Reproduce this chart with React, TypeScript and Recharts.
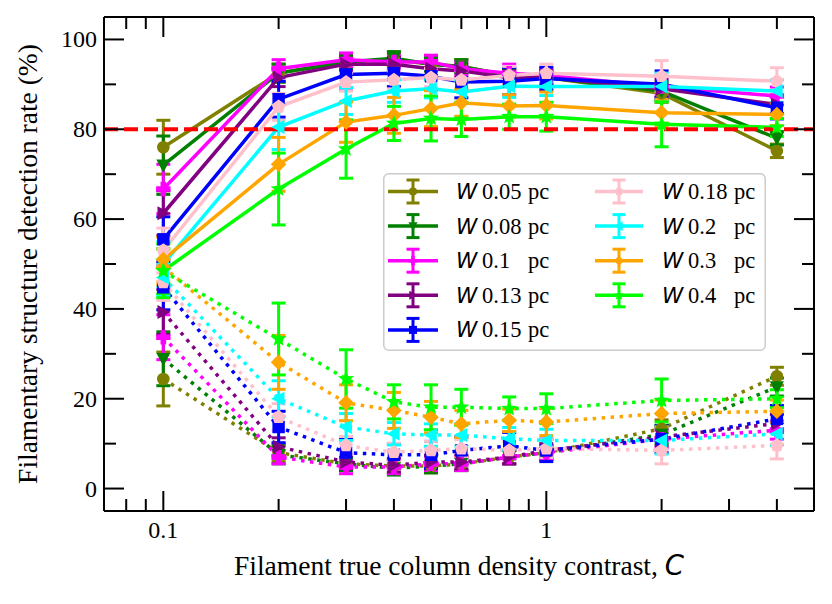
import React from 'react';
import { ComposedChart, Line, XAxis, YAxis, ErrorBar, ReferenceLine } from 'recharts';

// Filament true column density contrast C
const contrastC = [0.1, 0.2, 0.3, 0.4, 0.5, 0.6, 0.8, 1, 2, 4];

// series meta
const widthLabels = ['0.05', '0.08', '0.1', '0.13', '0.15', '0.18', '0.2', '0.3', '0.4'];
const seriesColors = ['#808000', '#008000', '#ff00ff', '#800080', '#0000ff', '#ffc0cb', '#00ffff', '#ffa500', '#00ff00'];
const seriesMarkers = ['circle', 'triDown', 'plus', 'triRight', 'square', 'pentagon', 'triLeft', 'diamond', 'star'];

// upper (solid) curves: detection rate (%)
const up005 = [76, 92.5, 95, 95.5, 94.5, 94, 92, 91.5, 88, 75.2];
const up008 = [72, 92.5, 95, 95.8, 94.5, 94, 92, 91.5, 88.5, 78];
const up010 = [66.7, 93.5, 95.5, 95, 95, 93.5, 92.5, 92, 89.5, 87.4];
const up013 = [61.3, 91.5, 94.5, 94.5, 93.5, 93, 91.5, 91.5, 89, 85.5];
const up015 = [55.5, 86.7, 92.2, 92.5, 91.8, 90.5, 90.7, 91.3, 90, 84.8];
const up018 = [53, 85, 90.5, 91, 91.5, 91, 92, 92.5, 91.8, 90.7];
const up020 = [50, 80.5, 86.3, 88.5, 89, 88.3, 89.6, 89.5, 89.5, 88.5];
const up030 = [51, 72.2, 81.6, 83.1, 84.6, 85.9, 85.2, 85.3, 83.7, 83.3];
const up040 = [48.5, 66.7, 75.6, 81.3, 82.4, 82.2, 82.8, 82.8, 81.1, 80.4];

// upper errors
const upErr005 = [6, 2, 1.5, 1.5, 1.5, 1.5, 1.5, 1.5, 2, 1.5];
const upErr008 = [6.5, 2, 1.5, 1.5, 1.5, 1.5, 1.5, 1.5, 2, 1.5];
const upErr010 = [5.5, 2, 1.5, 1.5, 1.5, 1.5, 2, 1.5, 2, 2];
const upErr013 = [5, 2, 1.5, 1.5, 1.5, 1.5, 1.5, 1.5, 2, 2];
const upErr015 = [5, 4, 3, 3, 3, 3.5, 3, 2.5, 3, 2.5];
const upErr018 = [5, 3, 2, 2, 2, 2, 2, 2, 3.5, 3];
const upErr020 = [5, 5, 3, 2.5, 2, 2.5, 2.5, 2, 3, 2.5];
const upErr030 = [5, 6, 4.5, 4, 4, 3, 2.5, 3, 3, 2.5];
const upErr040 = [6, 8, 6.5, 3.8, 5, 3.8, 2.8, 3.2, 5, 2];

// lower (dotted) curves
const lo005 = [24.4, 8, 5.5, 5, 5, 5.5, 7, 8, 13.3, 25];
const lo008 = [28.9, 7.5, 5.5, 4.5, 5, 5.5, 7, 8, 12, 22.6];
const lo010 = [33.7, 7, 4.8, 4.8, 5.5, 5.5, 7, 8, 11, 13];
const lo013 = [39.3, 9.3, 5.9, 5.2, 5.9, 5.9, 7, 8.5, 11.5, 14.5];
const lo015 = [44.8, 13.7, 8, 7.5, 7.5, 8.5, 9.5, 8.5, 11, 15.5];
const lo018 = [45.9, 15.9, 9.6, 8.1, 8.5, 8.9, 8.5, 8.9, 8.5, 9.6];
const lo020 = [47, 20, 13.7, 12.2, 11.9, 11.9, 11.1, 10.7, 10.7, 12.2];
const lo030 = [49.3, 28.1, 19.1, 17.4, 15.9, 14.4, 15.2, 14.8, 16.7, 17.2];
const lo040 = [48.4, 33.3, 24.4, 19.3, 18.1, 18.1, 17.8, 17.8, 19.6, 20];

// lower errors
const loErr005 = [6, 2, 1.5, 1.5, 1.5, 1.5, 1.5, 1.5, 2, 2];
const loErr008 = [6, 2, 1.5, 1.5, 1.5, 1.5, 1.5, 1.5, 2, 2];
const loErr010 = [5, 1.5, 1.5, 1.5, 1.5, 1.5, 1.5, 1.5, 2, 2];
const loErr013 = [5, 2, 1.5, 1.5, 1.5, 1.5, 1.5, 1.5, 2, 2];
const loErr015 = [5, 3.5, 3, 2.5, 3, 3, 3, 2.5, 3, 3];
const loErr018 = [4, 3, 2, 2, 2, 2, 2, 2, 3, 3];
const loErr020 = [4, 4, 3, 2.5, 2.5, 2.5, 2.5, 2.5, 3, 2.5];
const loErr030 = [4, 6, 4, 4, 3.5, 3, 2.5, 3, 3, 2.5];
const loErr040 = [5, 8, 6.5, 3.8, 5, 4, 2.6, 3.3, 4.8, 2];

const upperSeries = [up005, up008, up010, up013, up015, up018, up020, up030, up040];
const upperErrors = [upErr005, upErr008, upErr010, upErr013, upErr015, upErr018, upErr020, upErr030, upErr040];
const lowerSeries = [lo005, lo008, lo010, lo013, lo015, lo018, lo020, lo030, lo040];
const lowerErrors = [loErr005, loErr008, loErr010, loErr013, loErr015, loErr018, loErr020, loErr030, loErr040];

// ticks
const xMajorTicks = [0.1, 1];
const xMajorLabels = ['0.1', '1'];
const xMinorTicks = [0.08, 0.09, 0.2, 0.3, 0.4, 0.5, 0.6, 0.7, 0.8, 0.9, 2, 3, 4];
const yMajorTicks = [0, 20, 40, 60, 80, 100];
const yMinorTicks = [10, 30, 50, 70, 90];
const thresholdRate = 80;

const xAllTicks = [...xMinorTicks, ...xMajorTicks].sort((a, b) => a - b);
const yAllTicks = [...yMinorTicks, ...yMajorTicks].sort((a, b) => a - b);

const rows = contrastC.map((c, i) => {
  const r: any = { c };
  upperSeries.forEach((s, k) => {
    r['u' + k] = s[i];
    r['ue' + k] = upperErrors[k][i];
    r['l' + k] = lowerSeries[k][i];
    r['le' + k] = lowerErrors[k][i];
  });
  return r;
});

const SERIF = 'Liberation Serif, Times New Roman, serif';
const SANS = 'DejaVu Sans, sans-serif';

function Marker({ shape, cx, cy, color, s = 1 }: any) {
  if (cx == null || cy == null || isNaN(cx) || isNaN(cy)) return null;
  const pts = (arr: number[][]) => arr.map((p) => `${cx + p[0] * s},${cy + p[1] * s}`).join(' ');
  switch (shape) {
    case 'circle':
      return <circle cx={cx} cy={cy} r={6.3 * s} fill={color} />;
    case 'triDown':
      return <polygon points={pts([[-7, -5.8], [7, -5.8], [0, 7.5]])} fill={color} />;
    case 'triRight':
      return <polygon points={pts([[-5.8, -7], [-5.8, 7], [7.5, 0]])} fill={color} />;
    case 'triLeft':
      return <polygon points={pts([[5.8, -7], [5.8, 7], [-7.5, 0]])} fill={color} />;
    case 'square':
      return <rect x={cx - 6.2 * s} y={cy - 6.2 * s} width={12.4 * s} height={12.4 * s} fill={color} />;
    case 'diamond':
      return <polygon points={pts([[0, -7.8], [7.8, 0], [0, 7.8], [-7.8, 0]])} fill={color} />;
    case 'pentagon': {
      const a: number[][] = [];
      for (let i = 0; i < 5; i++) {
        const t = (-90 + i * 72) * Math.PI / 180;
        a.push([7.2 * Math.cos(t), 7.2 * Math.sin(t)]);
      }
      return <polygon points={pts(a)} fill={color} />;
    }
    case 'star': {
      const a: number[][] = [];
      for (let i = 0; i < 10; i++) {
        const t = (-90 + i * 36) * Math.PI / 180;
        const r = i % 2 === 0 ? 8.5 : 3.6;
        a.push([r * Math.cos(t), r * Math.sin(t)]);
      }
      return <polygon points={pts(a)} fill={color} />;
    }
    case 'plus': {
      const w = 2.8, l = 7.2;
      return (
        <polygon
          points={pts([[-w, -l], [w, -l], [w, -w], [l, -w], [l, w], [w, w], [w, l], [-w, l], [-w, w], [-l, w], [-l, -w], [-w, -w]])}
          fill={color}
        />
      );
    }
    default:
      return null;
  }
}

const BottomTick = (props: any) => {
  const { x, y, payload } = props;
  const idx = xMajorTicks.indexOf(payload.value);
  const major = idx >= 0;
  return (
    <g>
      <line x1={x} y1={y} x2={x} y2={y - (major ? 20 : 12)} stroke="#000" strokeWidth={2} />
      {major && (
        <text x={x} y={y + 27} textAnchor="middle" fontFamily={SERIF} fontSize={24} fill="#000">
          {xMajorLabels[idx]}
        </text>
      )}
    </g>
  );
};

const TopTick = (props: any) => {
  const { x, y, payload } = props;
  const major = xMajorTicks.indexOf(payload.value) >= 0;
  return <line x1={x} y1={y} x2={x} y2={y + (major ? 20 : 12)} stroke="#000" strokeWidth={2} />;
};

const LeftTick = (props: any) => {
  const { x, y, payload } = props;
  const major = yMajorTicks.indexOf(payload.value) >= 0;
  return (
    <g>
      <line x1={x} y1={y} x2={x + (major ? 20 : 12)} y2={y} stroke="#000" strokeWidth={2} />
      {major && (
        <text x={x - 7} y={y + 8} textAnchor="end" fontFamily={SERIF} fontSize={24} fill="#000">
          {String(payload.value)}
        </text>
      )}
    </g>
  );
};

const RightTick = (props: any) => {
  const { x, y, payload } = props;
  const major = yMajorTicks.indexOf(payload.value) >= 0;
  return <line x1={x} y1={y} x2={x - (major ? 20 : 12)} y2={y} stroke="#000" strokeWidth={2} />;
};

const XLabel = (props: any) => {
  const vb = props.viewBox || {};
  return (
    <text x={vb.x + vb.width / 2} y={vb.y + 64} textAnchor="middle" fontFamily={SERIF} fontSize={27.5} fill="#000">
      Filament true column density contrast,{' '}
      <tspan fontFamily={SANS} fontStyle="italic">C</tspan>
    </text>
  );
};

const YLabel = (props: any) => {
  const vb = props.viewBox || {};
  const cx = 19;
  const cy = vb.y + vb.height / 2;
  return (
    <text
      x={cx}
      y={cy}
      transform={`rotate(-90 ${cx} ${cy})`}
      textAnchor="middle"
      dominantBaseline="central"
      fontFamily={SERIF}
      fontSize={27.5}
      fill="#000"
    >
      Filamentary structure detection rate (%)
    </text>
  );
};

function LegendBox() {
  const rowY = [18.5, 53.1, 87.7, 122.3, 156.9];
  const cols = [
    { h0: 5, h1: 55, w: 73, n: 99, pc: 145 },
    { h0: 212, h1: 260, w: 279, n: 305, pc: 351 },
  ];
  return (
    <svg width={384} height={179} style={{ position: 'absolute', left: 375, top: 165 }}>
      <rect x={0.75} y={0.75} width={381.5} height={176.5} rx={5} fill="#fff" fillOpacity={0.8} stroke="#cccccc" strokeWidth={1.5} />
      {widthLabels.map((lab, k) => {
        const col = cols[k < 5 ? 0 : 1];
        const y = rowY[k < 5 ? k : k - 5];
        const cx = (col.h0 + col.h1) / 2;
        const color = seriesColors[k];
        return (
          <g key={k}>
            <line x1={col.h0} y1={y} x2={col.h1} y2={y} stroke={color} strokeWidth={3.5} />
            <line x1={cx} y1={y - 11.5} x2={cx} y2={y + 11.5} stroke={color} strokeWidth={3} />
            <line x1={cx - 6.5} y1={y - 11.5} x2={cx + 6.5} y2={y - 11.5} stroke={color} strokeWidth={3} />
            <line x1={cx - 6.5} y1={y + 11.5} x2={cx + 6.5} y2={y + 11.5} stroke={color} strokeWidth={3} />
            <Marker shape={seriesMarkers[k]} cx={cx} cy={y} color={color} s={0.65} />
            <text x={col.w} y={y + 7.5} fontFamily={SANS} fontStyle="italic" fontSize={21.5} fill="#000">W</text>
            <text x={col.n} y={y + 7.5} fontFamily={SERIF} fontSize={22.5} fill="#000">{lab}</text>
            <text x={col.pc} y={y + 7.5} fontFamily={SERIF} fontSize={22.5} fill="#000">pc</text>
          </g>
        );
      })}
    </svg>
  );
}

export default function App() {
  const lines: any[] = [];
  upperSeries.forEach((_, k) => {
    const color = seriesColors[k];
    const shape = seriesMarkers[k];
    lines.push(
      <Line
        key={'u' + k}
        dataKey={'u' + k}
        type="linear"
        stroke={color}
        strokeWidth={3.5}
        isAnimationActive={false}
        activeDot={false}
        dot={(p: any) => <Marker key={'ud' + k + '-' + p.index} shape={shape} cx={p.cx} cy={p.cy} color={color} />}
      >
        <ErrorBar dataKey={'ue' + k} width={7} strokeWidth={3} stroke={color} direction="y" />
      </Line>
    );
    lines.push(
      <Line
        key={'l' + k}
        dataKey={'l' + k}
        type="linear"
        stroke={color}
        strokeWidth={3.5}
        strokeDasharray="3.5 5.5"
        isAnimationActive={false}
        activeDot={false}
        dot={(p: any) => <Marker key={'ld' + k + '-' + p.index} shape={shape} cx={p.cx} cy={p.cy} color={color} />}
      >
        <ErrorBar dataKey={'le' + k} width={7} strokeWidth={3} stroke={color} direction="y" />
      </Line>
    );
  });

  return (
    <div style={{ position: 'relative', width: 816, height: 590 }}>
      <ComposedChart width={816} height={590} data={rows} margin={{ top: 4, right: 5, bottom: 0, left: 0 }}>
        <XAxis
          dataKey="c"
          type="number"
          scale="log"
          domain={[0.07, 5]}
          allowDataOverflow
          ticks={xAllTicks}
          interval={0}
          tick={<BottomTick />}
          tickLine={false}
          tickSize={0}
          tickMargin={0}
          axisLine={{ stroke: '#000', strokeWidth: 2 }}
          height={87}
          label={<XLabel />}
        />
        <XAxis
          xAxisId="top"
          orientation="top"
          dataKey="c"
          type="number"
          scale="log"
          domain={[0.07, 5]}
          allowDataOverflow
          ticks={xAllTicks}
          interval={0}
          tick={<TopTick />}
          tickLine={false}
          tickSize={0}
          tickMargin={0}
          axisLine={{ stroke: '#000', strokeWidth: 2 }}
          height={5}
        />
        <YAxis
          type="number"
          domain={[-5, 105]}
          allowDataOverflow
          ticks={yAllTicks}
          interval={0}
          tick={<LeftTick />}
          tickLine={false}
          tickSize={0}
          tickMargin={0}
          axisLine={{ stroke: '#000', strokeWidth: 2 }}
          width={96}
          label={<YLabel />}
        />
        <YAxis
          yAxisId="right"
          orientation="right"
          type="number"
          domain={[-5, 105]}
          allowDataOverflow
          ticks={yAllTicks}
          interval={0}
          tick={<RightTick />}
          tickLine={false}
          tickSize={0}
          tickMargin={0}
          axisLine={{ stroke: '#000', strokeWidth: 2 }}
          width={5}
        />
        {lines}
        <ReferenceLine y={thresholdRate} stroke="#ff0000" strokeWidth={4} strokeDasharray="14 6" />
      </ComposedChart>
      <LegendBox />
    </div>
  );
}
